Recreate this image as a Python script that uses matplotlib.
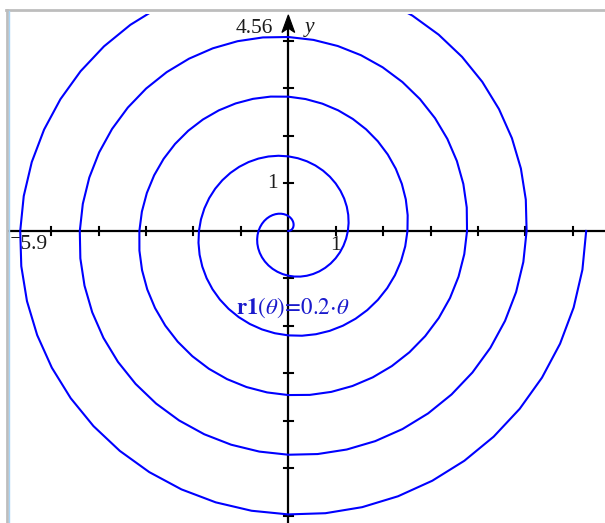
import numpy as np
import matplotlib
matplotlib.use('Agg')
import matplotlib.pyplot as plt
from matplotlib.patches import Polygon
from matplotlib.lines import Line2D

plt.rcParams['mathtext.fontset'] = 'stix'

# polar graph r1(theta) = 0.2*theta, theta from 0 to 10*pi, step pi/24
coef = 0.2
theta_min = 0.0
theta_max = 10 * np.pi
theta_step = np.pi / 24

# window
x_min, x_max = -5.9, 6.68
y_min, y_max = -6.15, 4.56
x_ticks = list(range(-5, 7))
y_ticks = list(range(-6, 5))
x_min_label = '\u207b5.9'
y_max_label = '4.56'
func_label = r'$\mathbf{r1}\left(\theta\right)\!=\!0.2\!\cdot\!\theta$'

W, H = 605, 523
fig = plt.figure(figsize=(W / 100, H / 100), dpi=100)
fig.patch.set_facecolor('white')

# graph area in pixel terms
left_px, top_px = 8.6, 14.4
ax = fig.add_axes([left_px / W, 0, 1 - left_px / W, 1 - top_px / H])
ax.set_xlim(x_min, x_max)
ax.set_ylim(y_min, y_max)
ax.axis('off')

serif = ['Liberation Serif', 'DejaVu Serif']
ink = '#1c1c1c'

# axes lines
ax.plot([x_min, x_max], [0, 0], color='black', lw=1.6, zorder=2, clip_on=False)
ax.plot([0, 0], [y_min, y_max - 0.2], color='black', lw=1.6, zorder=2, clip_on=False)

tick_half = 0.09
for t in x_ticks:
    if t == 0:
        continue
    ax.plot([t, t], [-tick_half, tick_half], color='black', lw=1.5, zorder=2)
for t in y_ticks:
    if t == 0:
        continue
    ax.plot([-tick_half, tick_half], [t, t], color='black', lw=1.5, zorder=2)

# arrow head on the y axis
ah = Polygon([[0, y_max - 0.01], [-0.135, y_max - 0.38], [0, y_max - 0.29],
              [0.135, y_max - 0.38]], closed=True, facecolor='black',
             edgecolor='black', lw=0.8, zorder=3, clip_on=False)
ax.add_patch(ah)

# spiral
theta = np.arange(theta_min, theta_max + theta_step / 2, theta_step)
r = coef * theta
ax.plot(r * np.cos(theta), r * np.sin(theta), color='#0000ff', lw=1.5, zorder=4)

# labels
fs = 15.5
ax.text(-0.33, y_max - 0.3, y_max_label, ha='right', va='center', fontsize=fs,
        family=serif, color=ink, clip_on=False)
ax.text(0.35, y_max - 0.28, 'y', ha='left', va='center', fontsize=fs,
        family=serif, style='italic', color=ink, clip_on=False)
ax.text(x_min + 0.02, -0.08, x_min_label, ha='left', va='top', fontsize=fs,
        family=serif, color=ink)
ax.text(1, -0.1, '1', ha='center', va='top', fontsize=fs, family=serif,
        color=ink)
ax.text(-0.22, 1, '1', ha='right', va='center', fontsize=fs, family=serif,
        color=ink)

ax.text(-1.1, -1.62, func_label, ha='left', va='center', fontsize=16.5,
        color='#1a1acc')

# frame of the graph page
fig.add_artist(Line2D([6 / W, 1], [1 - 10 / H, 1 - 10 / H], color='#bdbdbd', lw=2.0))
fig.add_artist(Line2D([7 / W, 7 / W], [0, 1 - 10 / H], color='#bdbdbd', lw=2.0))
fig.add_artist(Line2D([8.8 / W, 8.8 / W], [0, 1 - 11 / H], color='#a8d4f5', lw=1.0))

fig.savefig('out.png', dpi=100, facecolor='white')
